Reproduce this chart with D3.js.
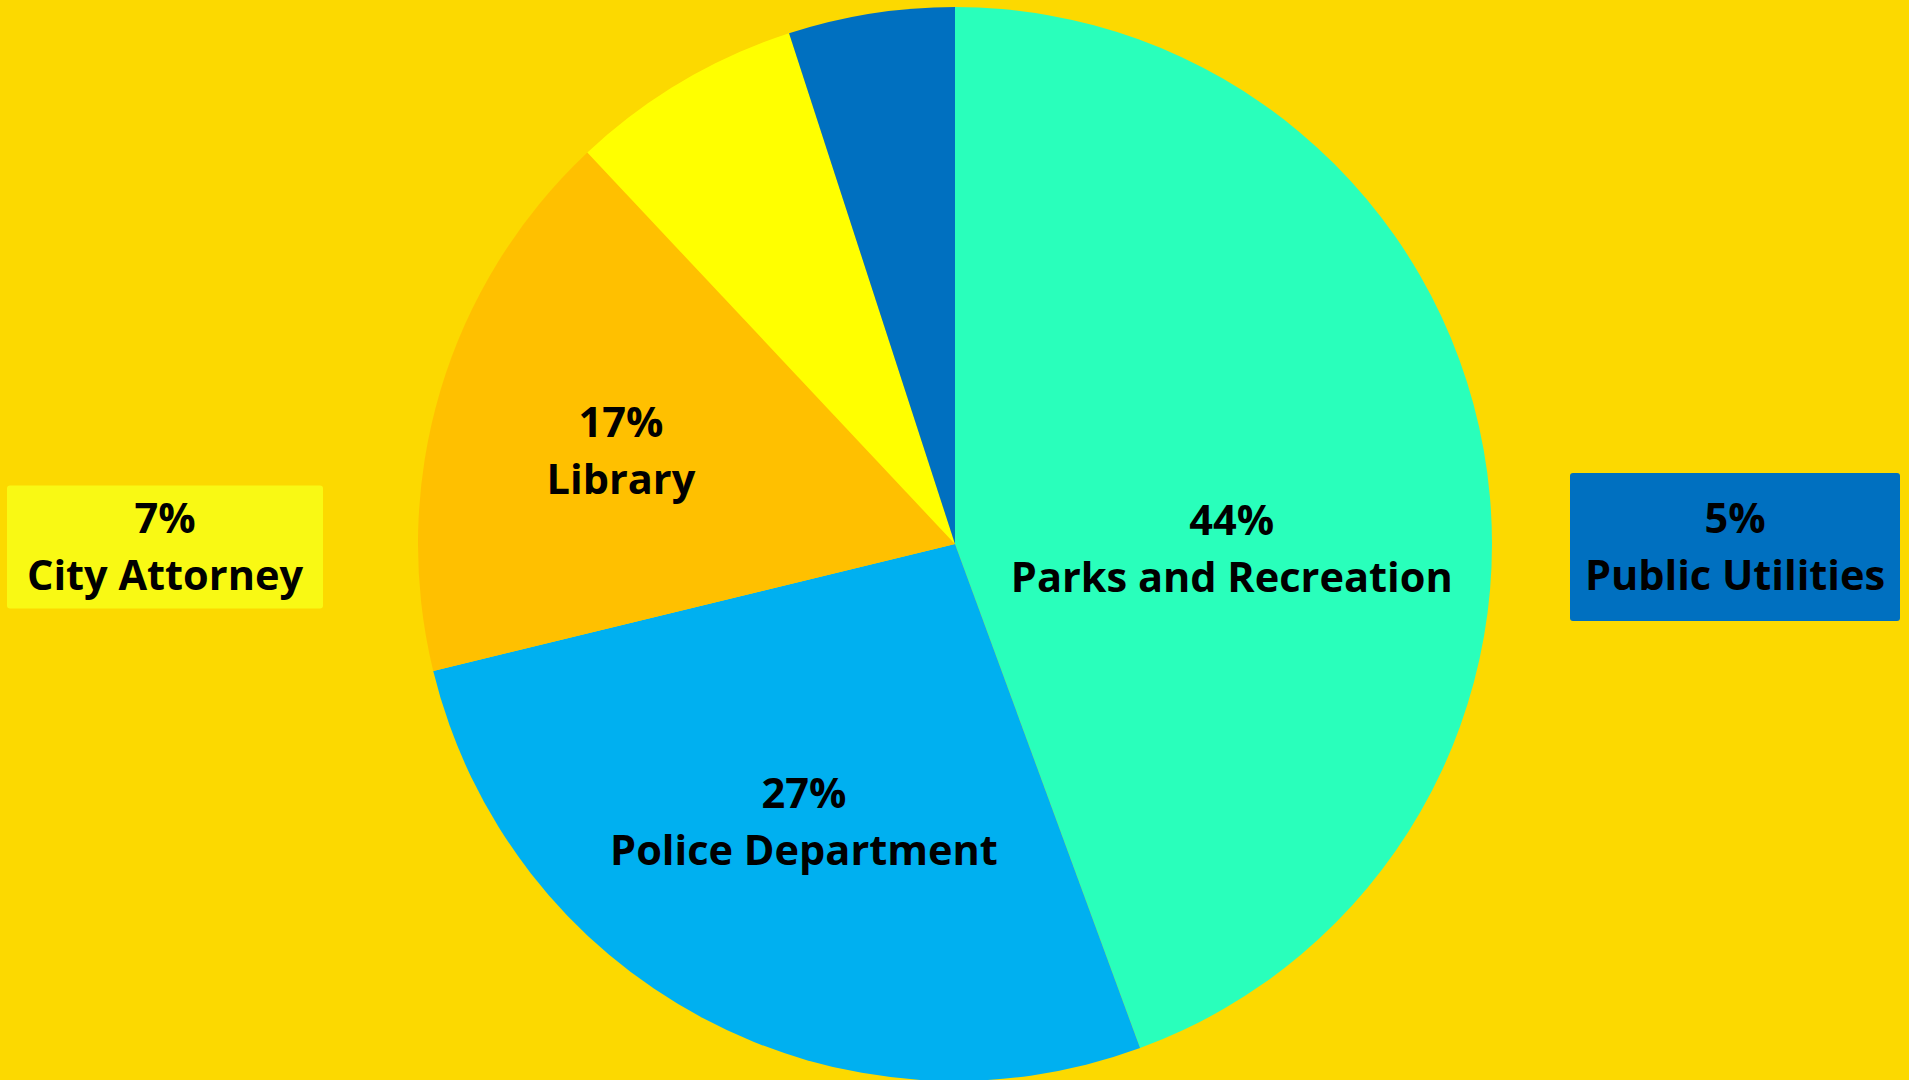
<!DOCTYPE html>
<html>
<head>
<meta charset="utf-8">
<script src="https://cdn.jsdelivr.net/npm/d3@7"></script>
<style>
  html, body { margin: 0; padding: 0; background: #fcd900; }
  svg { display: block; }
  text { font-family: "Open Sans", "Noto Sans", sans-serif; font-weight: 700; fill: #000; }
</style>
</head>
<body>
<script>
// chart data
var departments = ["Parks and Recreation", "Police Department", "Library", "City Attorney", "Public Utilities"];
var shares = [44.4, 26.8, 16.8, 7.0, 5.0];
var colors = ["#29ffbb", "#00b0f0", "#ffc000", "#ffff00", "#0070c0"];

var w = 1909;
var h = 1080;
var cx = 955, cy = 544, r = 537;

var svg = d3.select("body")
            .append("svg")
            .attr("width", w)
            .attr("height", h);

svg.append("rect")
   .attr("width", w)
   .attr("height", h)
   .attr("fill", "#fcd900");

var rows = departments.map(function (d, i) {
  return { name: d, value: shares[i], color: colors[i] };
});

var pie = d3.pie()
            .sort(null)
            .value(function (d) { return d.value; });

var arc = d3.arc().innerRadius(0).outerRadius(r);
var labelArc = d3.arc().innerRadius(r * 0.55).outerRadius(r * 0.55);

var arcs = pie(rows);
var total = d3.sum(shares);

var g = svg.append("g").attr("transform", "translate(" + cx + "," + cy + ")");

g.selectAll("path")
 .data(arcs)
 .enter()
 .append("path")
 .attr("d", arc)
 .attr("fill", function (d) { return d.data.color; });

// label placement (inside slices nudged, small slices go out in boxes)
var labelShift = {
  "Parks and Recreation": [-14, 57],
  "Police Department": [-12, 18],
  "Library": [-51, -8]
};
var outside = {
  "City Attorney": { x: 165, box: [316, 123], fill: "#f9f914" },
  "Public Utilities": { x: 1735, box: [330, 148], fill: "#0070c0" }
};

var lineGap = 57;
var fontSize = 41.5;

arcs.forEach(function (d) {
  var name = d.data.name;
  var pct = Math.round(d.data.value / total * 100) + "%";
  var px, py;
  if (outside[name]) {
    var o = outside[name];
    px = o.x;
    py = 547;
    svg.append("rect")
       .attr("x", px - o.box[0] / 2)
       .attr("y", py - o.box[1] / 2)
       .attr("width", o.box[0])
       .attr("height", o.box[1])
       .attr("rx", 3)
       .attr("fill", o.fill);
  } else {
    var c = labelArc.centroid(d);
    var s = labelShift[name];
    px = cx + c[0] + s[0];
    py = cy + c[1] + s[1];
  }
  var t = svg.append("text")
             .attr("text-anchor", "middle")
             .style("font-size", fontSize + "px");
  t.append("tspan")
   .attr("x", px)
   .attr("y", py - lineGap / 2 + 14)
   .text(pct);
  t.append("tspan")
   .attr("x", px)
   .attr("y", py + lineGap / 2 + 14)
   .text(name);
});
</script>
</body>
</html>
